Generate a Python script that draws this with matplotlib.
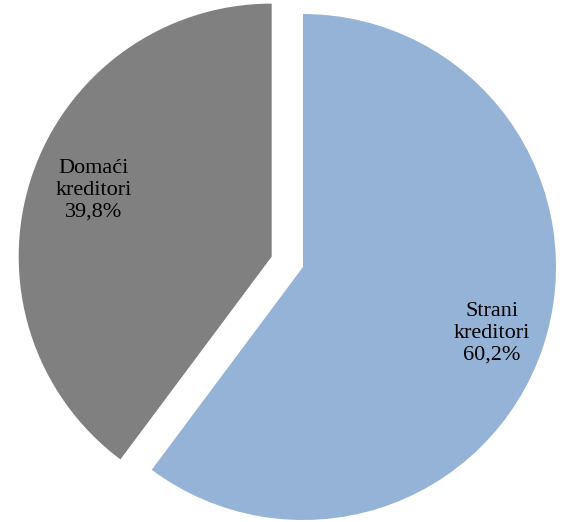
import matplotlib
matplotlib.use("Agg")
import matplotlib.pyplot as plt
import numpy as np

# Struktura kreditora
categories = ["Strani\nkreditori", "Domaći\nkreditori"]
values = [60.2, 39.8]
pct_labels = ["60,2%", "39,8%"]
colors = ["#95B3D7", "#808080"]

plt.rcParams['font.family'] = ['Liberation Serif', 'DejaVu Serif']

fig = plt.figure(figsize=(5.63, 5.22), dpi=100)
ax = fig.add_axes([0, 0, 1, 1])

radius = 253
center = (303, 255)
wedges, _ = ax.pie(values, colors=colors, startangle=90, counterclock=False,
                   radius=radius, center=center, explode=[0, 33],
                   frame=True)
ax.set_xlim(0, 563)
ax.set_ylim(0, 522)
ax.set_aspect('equal')
ax.axis('off')

# polozaj natpisa (udio radijusa, pomak kuta)
label_dist = [0.79, 0.75]
label_rot = [-1, -2]
for w, cat, pct, d, r in zip(wedges, categories, pct_labels, label_dist, label_rot):
    ang = np.deg2rad((w.theta1 + w.theta2) / 2 + r)
    cx, cy = w.center
    x = cx + d * radius * np.cos(ang)
    y = cy + d * radius * np.sin(ang)
    ax.text(x, y, cat + "\n" + pct, ha='center', va='center',
            fontsize=16, linespacing=1.2, color='black')

fig.savefig("out.png", dpi=100)
